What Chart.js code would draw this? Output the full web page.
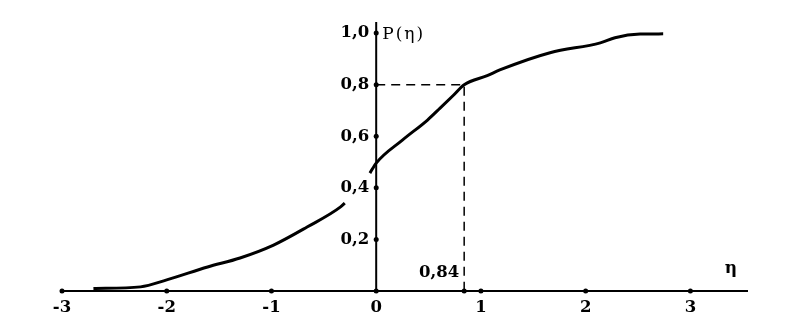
<!DOCTYPE html>
<html><head><meta charset="utf-8">
<script src="https://cdn.jsdelivr.net/npm/chart.js@4/dist/chart.umd.min.js"></script>
<style>html,body{margin:0;padding:0;background:#fff}#w{width:787px;height:329px}</style>
</head><body><div id="w"><canvas id="c" width="787" height="329"></canvas></div>
<script>
// Curve P(eta) (two pieces; gap where the "0,4" label sits)
const etaLeft = [-2.70, -2.25, -2.00, -1.61, -1.30, -0.98, -0.66, -0.34, -0.30];
const pLeft   = [0.010, 0.016, 0.043, 0.093, 0.128, 0.178, 0.248, 0.326, 0.341];
const etaRight = [-0.06, 0.00, 0.25, 0.49, 0.61, 0.74, 0.84, 1.06, 1.18, 1.66, 2.14, 2.28, 2.52, 2.74];
const pRight   = [0.457, 0.496, 0.585, 0.663, 0.709, 0.760, 0.800, 0.835, 0.857, 0.924, 0.962, 0.982, 0.996, 0.997];
// Axis ticks
const xTicks = [-3, -2, -1, 0, 1, 2, 3];
const xTickLabels = ['-3', '-2', '-1', '0', '1', '2', '3'];
const yTicks = [0.2, 0.4, 0.6, 0.8, 1.0];
const yTickLabels = ['0,2', '0,4', '0,6', '0,8', '1,0'];
// Marked quantile
const etaMark = 0.84, pMark = 0.8, etaMarkLabel = '0,84';
const xMin = -3, xMax = 3.55, yMin = 0, yMax = 1.043;

const toPts = (xs, ys) => xs.map((x, i) => ({x, y: ys[i]}));
const dots = [...xTicks.map(x => ({x, y: 0})), {x: etaMark, y: 0}, ...yTicks.map(y => ({x: 0, y}))];

const axesPlugin = {
  id: 'axes',
  beforeDatasetsDraw(chart) {
    const {ctx, scales: {x, y}} = chart;
    ctx.save();
    ctx.strokeStyle = '#000'; ctx.lineWidth = 2;
    ctx.beginPath();
    ctx.moveTo(x.getPixelForValue(xMin), y.getPixelForValue(0));
    ctx.lineTo(x.getPixelForValue(xMax), y.getPixelForValue(0));
    ctx.moveTo(x.getPixelForValue(0), y.getPixelForValue(0));
    ctx.lineTo(x.getPixelForValue(0), y.getPixelForValue(yMax));
    ctx.stroke();
    ctx.restore();
  },
  afterDatasetsDraw(chart) {
    const {ctx, scales: {x, y}} = chart;
    ctx.save();
    ctx.fillStyle = '#000';
    ctx.font = 'bold 16.5px "DejaVu Serif"';
    ctx.textAlign = 'center'; ctx.textBaseline = 'middle';
    xTicks.forEach((v, i) => ctx.fillText(xTickLabels[i], x.getPixelForValue(v), y.getPixelForValue(0) + 17));
    ctx.textAlign = 'right';
    yTicks.forEach((v, i) => ctx.fillText(yTickLabels[i], x.getPixelForValue(0) - 7, y.getPixelForValue(v)));
    ctx.textBaseline = 'alphabetic';
    ctx.fillText(etaMarkLabel, x.getPixelForValue(etaMark) - 5, y.getPixelForValue(0) - 14);
    ctx.font = '17px "DejaVu Serif"';
    ctx.letterSpacing = '2px';
    ctx.textAlign = 'left'; ctx.textBaseline = 'middle';
    ctx.fillText('P(η)', x.getPixelForValue(0) + 6, y.getPixelForValue(1.0) + 1);
    ctx.letterSpacing = '0px';
    ctx.font = 'bold 17px "DejaVu Serif"';
    ctx.textAlign = 'center';
    ctx.fillText('η', 731, y.getPixelForValue(0) - 22);
    ctx.restore();
  }
};

new Chart(document.getElementById('c'), {
  type: 'scatter',
  data: {
    datasets: [
      {data: toPts(etaLeft, pLeft), showLine: true, borderColor: '#000', borderWidth: 3, pointRadius: 0, cubicInterpolationMode: 'monotone', clip: false},
      {data: toPts(etaRight, pRight), showLine: true, borderColor: '#000', borderWidth: 3, pointRadius: 0, cubicInterpolationMode: 'monotone', clip: false},
      {data: [{x: 0, y: pMark}, {x: etaMark, y: pMark}, {x: etaMark, y: 0}], showLine: true, borderColor: '#000', borderWidth: 1.5, borderDash: [9, 6], pointRadius: 0, tension: 0, clip: false},
      {data: dots, showLine: false, pointRadius: 2.5, pointBackgroundColor: '#000', pointBorderWidth: 0, clip: false}
    ]
  },
  options: {
    responsive: false, animation: false, devicePixelRatio: 1,
    layout: {padding: {left: 62, right: 39, top: 22, bottom: 38}},
    plugins: {legend: {display: false}, tooltip: {enabled: false}},
    scales: {
      x: {type: 'linear', min: xMin, max: xMax, display: false},
      y: {type: 'linear', min: yMin, max: yMax, display: false}
    }
  },
  plugins: [axesPlugin]
});
</script></body></html>
